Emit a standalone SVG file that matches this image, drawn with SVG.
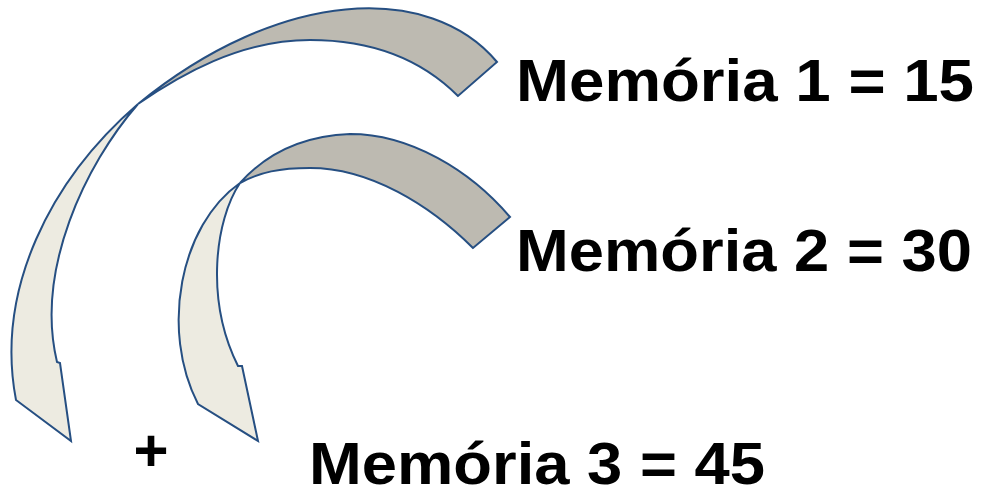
<svg xmlns="http://www.w3.org/2000/svg" width="990" height="491" viewBox="0 0 990 491">
<style>
.front{fill:#BDBAB1;stroke:#264F82;stroke-width:2;stroke-linejoin:miter}
.back{fill:#EDEBE1;stroke:#264F82;stroke-width:2;stroke-linejoin:miter}
.lbl{font-family:"Liberation Sans",Arial,sans-serif;font-weight:bold;font-size:60px;fill:#000}
</style>
<rect width="990" height="491" fill="#fff"/>
<g id="arrow1">
<path class="back" d="M138,104 C85,165 35,270 57,362 L60,363 L71,441 L16,400 C-5,290 50,180 138,104 Z"/>
<path class="front" d="M497,62 C430,-18 280,-12 138,104 C180,75 240,40 310,40 C370,40 420,58 458,96 Z"/>
</g>
<g id="arrow2">
<path class="back" d="M240,183 C215,220 205,300 238,366 L242,366 L258,441 L198,404 C160,330 180,225 240,183 Z"/>
<path class="front" d="M510,217 C470,170 410,134 350,134 C300,136 265,155 240,183 C260,172 280,168 310,168 C370,168 430,205 473,248 Z"/>
</g>
<g id="label1"><text class="lbl" x="516" y="101" textLength="458" lengthAdjust="spacingAndGlyphs">Memória 1 = 15</text></g>
<g id="label2"><text class="lbl" x="516" y="271" textLength="456" lengthAdjust="spacingAndGlyphs">Memória 2 = 30</text></g>
<g id="label3"><text class="lbl" x="309" y="484" textLength="456" lengthAdjust="spacingAndGlyphs">Memória 3 = 45</text></g>
<g id="plus"><text class="lbl" x="151" y="471" text-anchor="middle" font-size="62">+</text></g>
</svg>
